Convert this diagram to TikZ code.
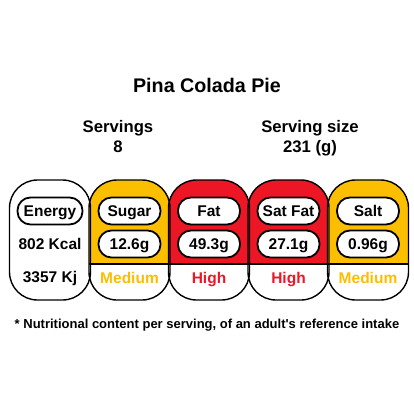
\documentclass[tikz,border=0pt]{standalone}
\usepackage{fontspec}
\setmainfont{Liberation Sans}
\definecolor{amber}{RGB}{251,191,0}
\definecolor{hired}{RGB}{236,22,36}
\tikzset{
  txt/.style={font=\bfseries\fontsize{15.5}{16}\selectfont,anchor=base,inner sep=0pt},
  head/.style={txt,font=\bfseries\fontsize{16.7}{17}\selectfont},
  tag/.style={font=\bfseries\fontsize{15.5}{16}\selectfont,draw,line width=1.8pt,fill=white,
    rounded corners=13pt,minimum width=62pt,minimum height=27pt,inner sep=0pt,
    text height=11pt,text depth=1pt},
  lozenge/.style={line width=1.4pt,rounded corners=28pt}
}
\begin{document}
\begin{tikzpicture}[x=1pt,y=-1pt]
  \useasboundingbox (0,0) rectangle (414,414);
  \fill[white] (0,0) rectangle (414,414);
  \node[txt,font=\bfseries\fontsize{19.7}{20}\selectfont] (title) at (207,93) {Pina Colada Pie};
  \node[head] (servings) at (118,133) {Servings};
  \node[head] (servnum) at (118,152) {8};
  \node[head] (size) at (310,133) {Serving size};
  \node[head] (sizenum) at (310,152) {231 (g)};
  % coloured tops
  \foreach \cx/\col in {129.5/amber,209/hired,288.5/hired,368/amber}{
    \begin{scope}
      \clip[rounded corners=28pt] (\cx-40.5,180) rectangle (\cx+40.5,300);
      \fill[\col] (\cx-41,180) rectangle (\cx+41,264);
    \end{scope}
    \draw[line width=1.4pt] (\cx-40.5,264) -- (\cx+40.5,264);
  }
  % outlines
  \foreach \cx in {50,129.5,209,288.5,368}
    \draw[lozenge] (\cx-40.5,180) rectangle (\cx+40.5,300);
  \node[tag,minimum width=65pt] (energy) at (50,211) {Energy};
  \node[txt] (kcal) at (50,249) {802 Kcal};
  \node[txt] (kj) at (50,282) {3357 Kj};
  \foreach \cx/\lab/\val/\lev/\lc/\nm in {129.5/Sugar/12.6g/Medium/amber/sugar,
      209/Fat/49.3g/High/hired/fat, 288.5/Sat Fat/27.1g/High/hired/satfat,
      368/Salt/0.96g/Medium/amber/salt}{
    \node[tag] (\nm) at (\cx,211) {\lab};
    \node[tag] (\nm val) at (\cx,244) {\val};
    \node[txt,text=\lc] (\nm lev) at (\cx,283) {\lev};
  }
  \node[txt,font=\bfseries\fontsize{13}{13}\selectfont] (note) at (207,328)
    {* Nutritional content per serving, of an adult\textquotesingle s reference intake};
\end{tikzpicture}
\end{document}
